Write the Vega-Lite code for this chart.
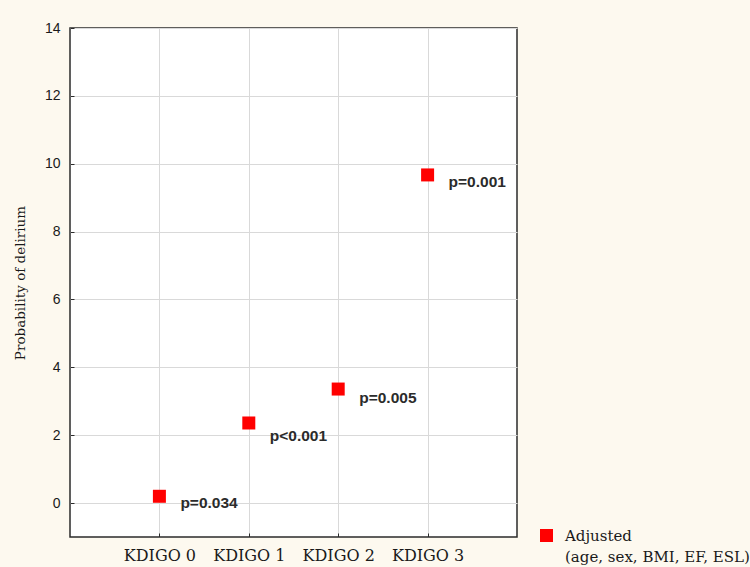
{
  "$schema": "https://vega.github.io/schema/vega-lite/v6.json",
  "autosize": "none",
  "width": 447,
  "height": 509,
  "padding": {"left": 70, "top": 28, "right": 233, "bottom": 30},
  "background": "#fdf9ef",
  "config": {
    "view": {"fill": "white", "stroke": "#2b2b2b", "strokeWidth": 1.5},
    "axis": {"gridColor": "#d9d9d9", "gridWidth": 1, "domain": false},
    "style": {"guide-label": {"lineHeight": 21}}
  },
  "data": {
    "values": [
      {"group": "KDIGO 0", "prob": 0.2, "labelY": 0.0, "p": "p=0.034", "model": "Adjusted"},
      {"group": "KDIGO 1", "prob": 2.36, "labelY": 1.98, "p": "p<0.001", "model": "Adjusted"},
      {"group": "KDIGO 2", "prob": 3.36, "labelY": 3.1, "p": "p=0.005", "model": "Adjusted"},
      {"group": "KDIGO 3", "prob": 9.67, "labelY": 9.47, "p": "p=0.001", "model": "Adjusted"}
    ]
  },
  "encoding": {
    "x": {
      "field": "group", "type": "nominal",
      "scale": {"type": "point", "padding": 1},
      "axis": {
        "title": null, "labelAngle": 0, "grid": true,
        "tickSize": -4, "tickColor": "#2b2b2b", "labelPadding": 14,
        "labelFont": "DejaVu Serif", "labelFontSize": 16, "labelColor": "#1a1a1a"
      }
    }
  },
  "layer": [
    {
      "mark": {"type": "point", "shape": "square", "filled": true, "size": 169, "opacity": 1},
      "encoding": {
        "y": {
          "field": "prob", "type": "quantitative",
          "scale": {"domain": [-1, 14], "nice": false, "zero": false},
          "axis": {
            "values": [0, 2, 4, 6, 8, 10, 12, 14],
            "title": "Probability of delirium",
            "titleFont": "DejaVu Serif", "titleFontSize": 13.5, "titleFontWeight": "normal",
            "titleColor": "#1a1a1a", "titlePadding": 17,
            "tickSize": -4, "tickColor": "#2b2b2b", "labelPadding": 14,
            "labelFont": "Liberation Sans", "labelFontSize": 14, "labelColor": "#1a1a1a"
          }
        },
        "color": {
          "field": "model", "type": "nominal",
          "scale": {"range": ["#ff0000"]},
          "legend": {
            "title": null, "orient": "none", "legendX": 469, "legendY": 500,
            "symbolType": "square", "symbolSize": 169, "symbolFillColor": "#ff0000", "symbolStrokeWidth": 0,
            "labelFont": "DejaVu Serif", "labelFontSize": 15, "labelColor": "#1a1a1a",
            "labelLimit": 300, "labelOffset": 11,
            "labelExpr": "['Adjusted', '(age, sex, BMI, EF, ESL)']"
          }
        }
      }
    },
    {
      "mark": {"type": "text", "align": "left", "baseline": "middle", "dx": 21, "font": "Liberation Sans", "fontWeight": "bold", "fontSize": 15.5, "color": "#2b2b2b"},
      "encoding": {
        "y": {"field": "labelY", "type": "quantitative"},
        "text": {"field": "p"}
      }
    }
  ]
}
